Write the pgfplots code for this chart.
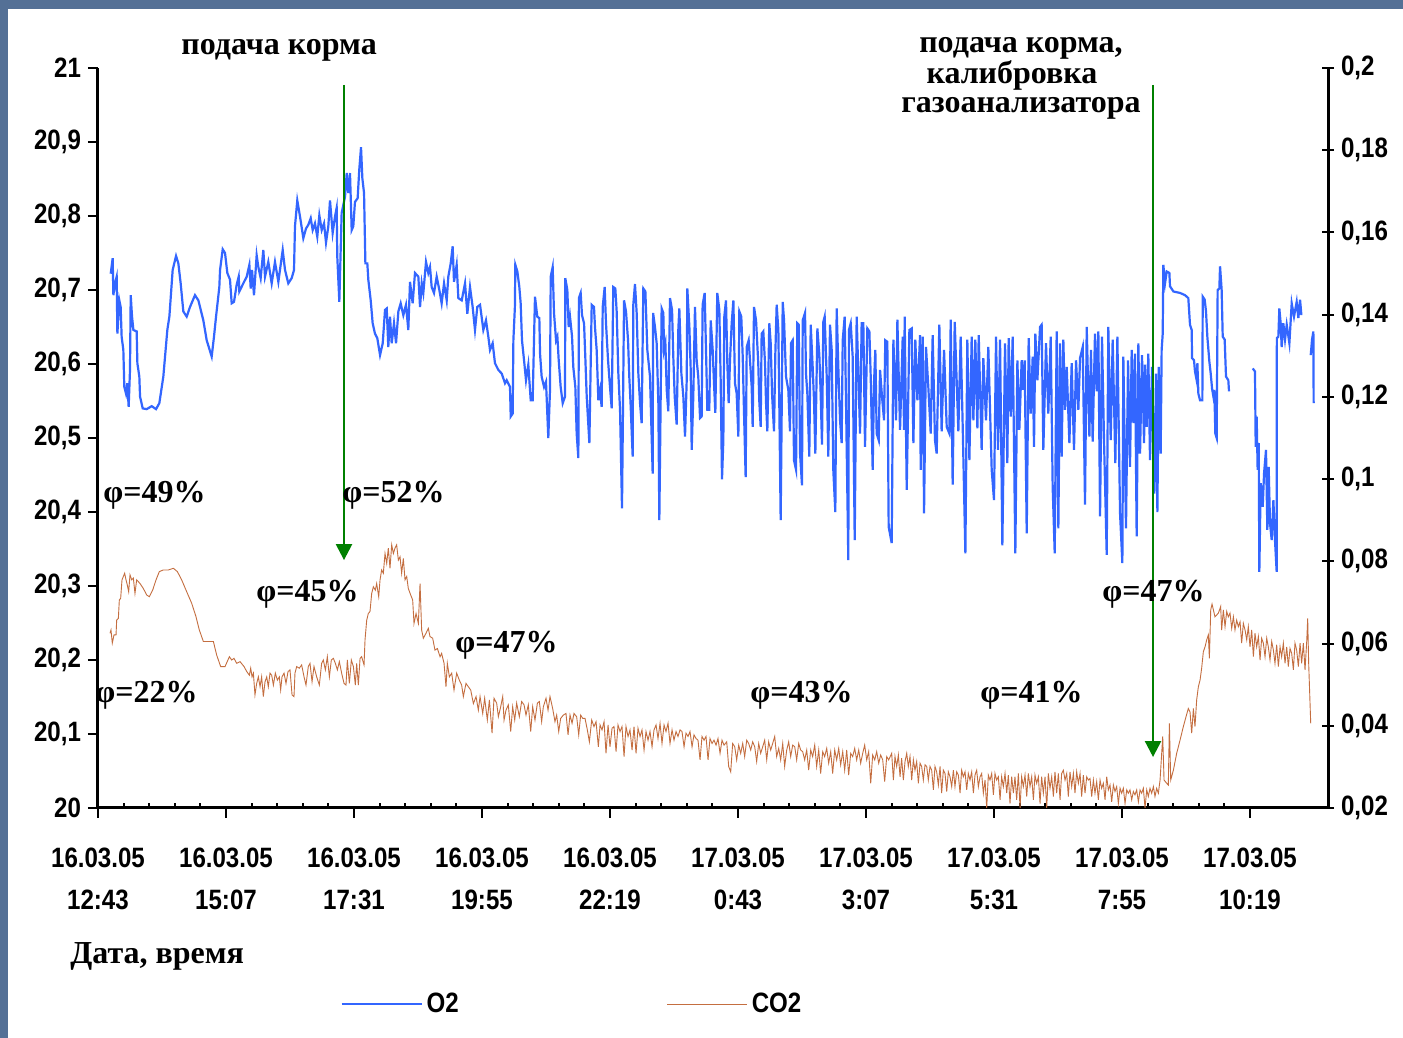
\documentclass[border=0pt]{standalone}
\usepackage{fontspec}
\setmainfont{Liberation Serif}
\newfontfamily\narrowsans[FakeStretch=0.86]{Liberation Sans}
\usepackage{pgfplots}
\pgfplotsset{compat=1.18}
\usetikzlibrary{arrows.meta}

\definecolor{otwo}{RGB}{51,102,255}
\definecolor{cotwo}{RGB}{196,110,64}
\definecolor{slide}{RGB}{84,112,150}
\definecolor{arrowgreen}{RGB}{0,128,0}

\newcommand{\tickfont}{\narrowsans\bfseries\fontsize{14}{21}\selectfont}
\newcommand{\notefont}{\bfseries\fontsize{16}{16}\selectfont}

\pgfplotsset{
  common/.style={
    scale only axis, width=615pt, height=370pt,
    at={(0pt,0pt)}, anchor=south west,
    xmin=0, xmax=1383.75,
    /pgf/number format/assume math mode=true,
    tick style={line width=1pt, black},
    axis line style={line width=1.5pt, black},
    ticklabel style={font=\tickfont},
  }
}

\begin{document}
\begin{tikzpicture}
% slide frame and white sheet
\fill[slide] (-49pt,-115pt) rectangle (652.5pt,404pt);
\fill[white] (-45pt,-115pt) rectangle (652.5pt,399.5pt);

% ---------- O2, left axis ----------
\begin{axis}[common,
  ymin=20, ymax=21,
  axis y line*=left, axis x line*=bottom,
  tick align=outside, major tick length=5pt,
  minor tick length=2.5pt,
  minor x tick style={yshift=2.5pt},
  xtick={0,144,288,432,576,720,864,1008,1152,1296},
  minor x tick num=4,
  xticklabels={{16.03.05\\12:43},{16.03.05\\15:07},{16.03.05\\17:31},{16.03.05\\19:55},{16.03.05\\22:19},{17.03.05\\0:43},{17.03.05\\3:07},{17.03.05\\5:31},{17.03.05\\7:55},{17.03.05\\10:19}},
  xticklabel style={align=center, yshift=-11.5pt},
  ytick={20,20.1,20.2,20.3,20.4,20.5,20.6,20.7,20.8,20.9,21},
  yticklabel style={/pgf/number format/.cd, fixed, precision=1, use comma},
  unbounded coords=jump,
]
\addplot[otwo, line width=1.1pt] table {
t O2
14.3 20.722
16.5 20.743
17.3 20.693
19.1 20.709
21.0 20.718
21.8 20.641
24.0 20.686
25.5 20.677
26.6 20.637
28.5 20.619
29.6 20.569
31.5 20.560
33.0 20.574
34.5 20.542
36.0 20.592
36.8 20.693
38.3 20.664
39.8 20.646
43.5 20.644
44.3 20.601
46.5 20.583
47.3 20.556
50.3 20.540
54.8 20.539
60.4 20.543
65.3 20.539
69.0 20.547
73.5 20.583
78.0 20.646
80.3 20.664
84.0 20.727
87.8 20.746
90.4 20.736
93.0 20.709
96.0 20.671
99.8 20.664
103.5 20.677
109.1 20.693
112.9 20.686
118.5 20.659
122.3 20.632
127.9 20.610
130.5 20.637
132.8 20.664
136.5 20.704
137.3 20.727
140.3 20.755
142.9 20.750
145.5 20.723
148.5 20.714
150.4 20.682
153.0 20.684
156.0 20.707
158.3 20.718
159.0 20.698
163.5 20.709
167.3 20.718
170.3 20.734
171.8 20.702
173.3 20.727
175.5 20.693
178.5 20.747
180.4 20.731
183.0 20.716
186.0 20.754
187.9 20.718
191.6 20.738
195.4 20.709
199.1 20.738
202.9 20.711
207.8 20.754
210.4 20.727
214.1 20.709
217.9 20.716
220.5 20.727
221.6 20.786
224.2 20.821
227.3 20.799
231.0 20.770
234.0 20.783
236.6 20.788
239.3 20.797
241.5 20.781
244.1 20.790
246.7 20.772
249.0 20.801
251.7 20.781
254.3 20.790
256.5 20.764
259.1 20.786
261.0 20.821
264.0 20.777
266.6 20.799
268.5 20.811
269.2 20.745
271.5 20.684
274.1 20.804
277.9 20.826
279.8 20.858
281.6 20.831
283.5 20.858
285.4 20.781
287.2 20.786
289.1 20.819
292.1 20.824
293.9 20.862
295.9 20.893
297.4 20.851
299.3 20.831
300.8 20.736
303.0 20.736
304.1 20.714
306.8 20.686
309.0 20.655
311.6 20.641
314.2 20.635
317.3 20.612
320.3 20.628
322.9 20.673
324.8 20.675
326.6 20.623
328.5 20.664
330.4 20.628
333.0 20.655
335.3 20.628
337.9 20.671
340.5 20.682
343.5 20.666
346.5 20.680
349.1 20.646
351.0 20.711
354.0 20.682
356.6 20.723
360.4 20.718
362.3 20.677
364.2 20.709
366.0 20.696
369.0 20.738
371.6 20.723
373.5 20.731
375.4 20.704
378.0 20.696
381.0 20.718
384.0 20.700
386.6 20.682
389.3 20.709
392.3 20.686
394.1 20.718
396.8 20.736
399.0 20.759
400.5 20.711
403.5 20.734
405.4 20.689
409.2 20.686
412.9 20.709
415.5 20.668
418.5 20.704
421.5 20.677
424.1 20.646
426.7 20.677
429.8 20.680
433.5 20.646
436.5 20.659
439.1 20.637
441.0 20.619
444.0 20.628
446.6 20.601
450.4 20.592
454.2 20.587
457.9 20.574
459.8 20.578
463.5 20.569
464.3 20.529
466.5 20.533
467.3 20.632
469.0 20.677
469.5 20.734
471.8 20.725
474.0 20.704
475.5 20.682
477.0 20.632
479.3 20.605
481.5 20.578
484.1 20.599
486.8 20.551
489.0 20.551
491.6 20.691
494.2 20.664
496.5 20.662
497.3 20.614
499.1 20.583
501.8 20.569
504.0 20.576
506.6 20.500
508.5 20.565
509.3 20.718
511.5 20.731
513.0 20.669
515.3 20.632
516.8 20.637
518.3 20.605
520.5 20.569
522.8 20.547
525.4 20.556
525.7 20.716
528.0 20.700
529.5 20.650
531.0 20.664
533.3 20.637
534.7 20.596
537.0 20.569
538.5 20.506
540.4 20.473
541.0 20.689
543.0 20.696
544.5 20.666
546.8 20.655
548.2 20.610
549.8 20.556
552.8 20.493
555.4 20.680
558.0 20.677
559.1 20.650
561.0 20.619
562.9 20.551
564.8 20.565
566.6 20.542
567.8 20.677
570.0 20.704
571.5 20.655
573.8 20.605
576.0 20.569
577.9 20.540
579.7 20.704
582.0 20.702
583.5 20.671
585.4 20.587
587.3 20.538
589.5 20.405
591.8 20.686
594.0 20.671
596.3 20.632
597.7 20.583
599.3 20.542
601.5 20.475
602.2 20.680
604.1 20.708
606.0 20.669
607.9 20.587
609.8 20.547
611.6 20.520
613.5 20.702
615.8 20.698
618.0 20.619
621.0 20.583
624.0 20.452
624.5 20.669
626.6 20.650
628.5 20.628
630.4 20.547
631.5 20.389
634.1 20.675
636.0 20.669
636.8 20.619
638.3 20.628
639.8 20.565
641.6 20.536
643.5 20.689
645.8 20.673
647.2 20.610
648.8 20.556
651.0 20.518
652.9 20.648
654.0 20.675
656.3 20.587
658.5 20.556
660.4 20.502
662.3 20.578
663.0 20.702
665.3 20.650
666.8 20.592
667.9 20.484
669.7 20.556
671.6 20.677
673.5 20.605
675.3 20.583
677.3 20.527
679.1 20.529
680.2 20.680
682.5 20.696
684.0 20.619
685.5 20.538
687.7 20.538
689.3 20.659
691.5 20.619
693.0 20.574
694.5 20.534
696.7 20.696
699.0 20.673
700.5 20.578
702.0 20.444
703.5 20.497
704.6 20.664
706.5 20.686
708.0 20.601
709.5 20.547
711.0 20.605
712.9 20.655
714.8 20.686
716.6 20.574
718.5 20.560
720.4 20.502
721.5 20.671
723.7 20.664
725.3 20.610
726.8 20.533
728.6 20.447
729.8 20.623
732.0 20.632
733.5 20.605
735.4 20.569
736.5 20.515
738.0 20.677
740.3 20.659
742.8 20.601
743.9 20.551
745.5 20.515
746.6 20.641
748.5 20.644
750.4 20.601
751.5 20.549
753.0 20.509
755.2 20.655
756.8 20.628
758.3 20.560
760.5 20.509
762.0 20.614
763.5 20.680
765.4 20.646
766.5 20.542
768.0 20.389
770.3 20.684
771.8 20.659
774.0 20.583
776.6 20.565
778.5 20.509
779.6 20.628
781.5 20.632
783.0 20.470
785.3 20.457
786.7 20.655
788.3 20.653
789.8 20.479
792.0 20.436
792.8 20.659
795.4 20.669
796.5 20.587
798.0 20.560
800.2 20.475
801.8 20.653
804.0 20.596
805.5 20.551
807.0 20.479
809.3 20.648
811.5 20.612
813.0 20.560
814.5 20.491
816.0 20.657
817.5 20.664
819.8 20.583
821.6 20.475
823.5 20.653
825.4 20.619
827.2 20.457
829.5 20.400
831.0 20.675
833.3 20.578
834.8 20.524
836.6 20.493
837.8 20.632
840.0 20.664
841.5 20.551
844.1 20.335
844.8 20.646
846.8 20.655
849.0 20.610
851.3 20.362
853.5 20.664
855.4 20.587
857.3 20.506
859.1 20.655
861.0 20.655
862.9 20.488
865.5 20.648
867.8 20.644
869.3 20.583
871.5 20.457
873.0 20.574
874.5 20.619
876.0 20.506
878.3 20.497
879.8 20.592
882.0 20.556
884.3 20.524
885.7 20.632
888.0 20.630
889.5 20.380
892.9 20.358
894.8 20.633
897.8 20.524
899.3 20.660
902.3 20.511
905.3 20.637
906.8 20.511
907.5 20.664
909.8 20.430
912.8 20.646
915.4 20.648
917.3 20.493
919.5 20.633
921.8 20.551
924.8 20.639
925.5 20.457
927.8 20.637
929.3 20.398
931.5 20.623
934.1 20.569
936.8 20.506
939.0 20.639
941.6 20.497
943.5 20.479
946.5 20.653
949.1 20.509
951.8 20.619
954.8 20.515
957.8 20.506
959.3 20.660
961.5 20.437
963.8 20.657
967.9 20.509
970.5 20.637
972.8 20.515
975.8 20.344
978.0 20.633
980.3 20.470
982.9 20.637
984.8 20.524
987.0 20.633
989.3 20.513
990.8 20.639
994.1 20.484
996.0 20.608
999.0 20.524
1001.6 20.623
1005.4 20.457
1008.0 20.416
1010.3 20.637
1012.5 20.484
1014.8 20.633
1017.4 20.355
1020.4 20.628
1023.0 20.466
1024.5 20.635
1026.8 20.529
1029.0 20.637
1032.0 20.344
1034.3 20.605
1036.5 20.511
1039.1 20.605
1041.0 20.565
1042.5 20.605
1044.8 20.371
1047.0 20.635
1049.3 20.533
1051.5 20.610
1053.0 20.488
1054.5 20.641
1056.8 20.578
1059.8 20.650
1061.6 20.653
1063.5 20.484
1066.5 20.628
1069.1 20.533
1071.8 20.637
1074.0 20.434
1076.3 20.344
1078.5 20.644
1080.4 20.378
1082.3 20.628
1084.1 20.475
1086.0 20.633
1087.9 20.538
1089.8 20.596
1092.8 20.493
1095.4 20.601
1098.0 20.484
1100.3 20.605
1102.9 20.538
1104.8 20.608
1107.8 20.623
1110.4 20.410
1112.3 20.650
1115.3 20.502
1117.1 20.619
1119.0 20.495
1121.6 20.641
1123.5 20.563
1125.4 20.644
1127.3 20.394
1129.5 20.637
1131.8 20.495
1134.8 20.342
1136.6 20.650
1139.3 20.497
1141.5 20.633
1144.5 20.466
1146.8 20.637
1149.8 20.398
1152.4 20.331
1153.5 20.610
1156.5 20.378
1158.8 20.605
1161.0 20.461
1162.9 20.619
1164.8 20.520
1166.6 20.614
1168.5 20.367
1170.4 20.628
1172.3 20.479
1174.5 20.612
1176.8 20.493
1177.9 20.599
1179.8 20.515
1181.6 20.614
1183.5 20.470
1185.8 20.596
1188.4 20.425
1190.3 20.587
1191.8 20.400
1193.3 20.596
1195.5 20.479
1196.6 20.619
1197.8 20.641
1198.5 20.734
1200.4 20.709
1202.3 20.725
1205.3 20.723
1206.0 20.705
1209.8 20.698
1217.3 20.696
1222.9 20.693
1226.6 20.689
1228.5 20.653
1230.4 20.646
1230.8 20.608
1233.0 20.605
1234.1 20.590
1236.0 20.578
1236.8 20.601
1237.9 20.560
1239.8 20.551
1242.4 20.551
1242.8 20.691
1245.0 20.687
1246.5 20.671
1248.0 20.637
1250.3 20.603
1251.8 20.587
1253.3 20.567
1254.8 20.556
1255.9 20.565
1257.0 20.506
1258.5 20.500
1259.6 20.700
1261.5 20.702
1262.3 20.732
1264.1 20.700
1265.3 20.637
1267.5 20.633
1269.0 20.583
1271.6 20.578
1272.4 20.563
1285.0 nan
1299.0 20.594
1301.6 20.590
1302.4 20.488
1303.5 20.529
1304.6 20.457
1305.8 20.493
1306.5 20.319
1308.0 20.439
1310.3 20.407
1311.8 20.452
1314.0 20.484
1315.5 20.376
1317.0 20.461
1318.5 20.385
1320.4 20.362
1322.3 20.416
1324.1 20.362
1326.0 20.319
1326.2 20.635
1327.9 20.637
1329.0 20.675
1330.5 20.655
1331.6 20.623
1333.5 20.655
1335.4 20.633
1337.3 20.653
1340.3 20.628
1342.9 20.682
1345.5 20.664
1348.5 20.684
1350.4 20.662
1352.3 20.687
1353.8 20.666
1360.0 nan
1364.3 20.612
1365.8 20.633
1367.3 20.644
1367.6 20.547
};
\end{axis}

% ---------- CO2, right axis ----------
\begin{axis}[common,
  ymin=0.02, ymax=0.2,
  axis y line*=right, axis x line=none,
  tick align=center, major tick length=6pt,
  ytick={0.02,0.04,0.06,0.08,0.1,0.12,0.14,0.16,0.18,0.2},
  yticklabel style={/pgf/number format/.cd, fixed, precision=2, use comma},
  clip mode=individual,
  legend columns=2,
  legend style={draw=none, fill=none, font=\tickfont, inner sep=0pt,
    at={(rel axis cs:0.1967,-0.2649)}, anchor=west,
    /tikz/every even column/.append style={column sep=102pt}},
  legend cell align=left,
  legend image code/.code={\draw[#1] (0pt,0pt) -- (40pt,0pt);},
]
\addlegendimage{otwo, line width=1.2pt}
\addlegendentry{O2}
\addplot[cotwo, line width=0.45pt] table {
t CO2
13.5 0.0625
14.6 0.0633
16.1 0.0601
18.0 0.0621
20.3 0.0621
21.0 0.0657
22.9 0.0661
24.0 0.0706
25.5 0.0710
27.0 0.0755
28.5 0.0763
30.0 0.0771
31.5 0.0755
33.0 0.0742
34.5 0.0726
36.0 0.0767
37.9 0.0755
39.8 0.0759
41.6 0.0722
43.5 0.0755
47.3 0.0746
51.0 0.0734
54.8 0.0718
57.8 0.0714
61.5 0.0730
65.3 0.0755
69.0 0.0775
73.5 0.0779
79.1 0.0779
84.8 0.0783
89.3 0.0775
94.1 0.0755
99.8 0.0726
105.4 0.0698
110.3 0.0665
114.0 0.0633
118.5 0.0605
123.0 0.0605
129.8 0.0605
133.5 0.0572
138.0 0.0544
142.9 0.0544
147.8 0.0568
150.4 0.0560
153.0 0.0564
156.0 0.0552
159.8 0.0556
164.3 0.0544
167.3 0.0532
170.3 0.0523
171.8 0.0540
173.3 0.0519
174.8 0.0528
176.6 0.0475
178.5 0.0503
180.4 0.0519
182.3 0.0495
184.1 0.0519
186.0 0.0471
187.9 0.0507
189.8 0.0519
191.6 0.0495
193.5 0.0528
195.4 0.0523
197.3 0.0499
199.5 0.0528
201.8 0.0511
204.0 0.0519
205.5 0.0487
207.0 0.0519
209.3 0.0528
211.5 0.0503
213.8 0.0532
216.0 0.0536
218.3 0.0475
220.5 0.0471
221.6 0.0528
223.5 0.0544
226.5 0.0540
229.1 0.0548
231.8 0.0519
234.0 0.0499
236.6 0.0544
238.5 0.0552
240.8 0.0507
243.0 0.0544
246.0 0.0519
249.0 0.0499
251.6 0.0552
253.5 0.0560
255.8 0.0536
258.0 0.0568
260.3 0.0519
262.5 0.0560
264.8 0.0564
267.0 0.0552
269.3 0.0536
271.5 0.0556
274.1 0.0528
276.8 0.0503
279.0 0.0499
280.5 0.0560
282.8 0.0503
285.0 0.0560
287.3 0.0544
289.5 0.0499
291.0 0.0552
292.9 0.0499
294.8 0.0564
296.6 0.0568
299.3 0.0548
300.4 0.0609
302.3 0.0657
304.1 0.0673
306.0 0.0678
307.9 0.0722
309.8 0.0738
312.0 0.0730
313.5 0.0746
315.8 0.0714
317.3 0.0755
319.1 0.0779
321.0 0.0771
322.9 0.0819
324.8 0.0795
326.6 0.0832
328.5 0.0783
330.4 0.0840
332.3 0.0819
334.1 0.0832
336.0 0.0840
337.9 0.0803
339.8 0.0811
341.6 0.0771
343.5 0.0807
345.4 0.0755
347.3 0.0763
349.1 0.0734
351.8 0.0718
354.0 0.0706
355.5 0.0649
357.8 0.0673
360.4 0.0649
362.3 0.0746
364.1 0.0633
366.0 0.0613
369.0 0.0625
371.6 0.0637
373.5 0.0617
376.5 0.0613
379.1 0.0584
381.8 0.0588
384.8 0.0568
386.6 0.0576
389.3 0.0552
391.5 0.0495
393.0 0.0552
395.3 0.0519
397.9 0.0528
400.5 0.0487
403.5 0.0528
406.5 0.0511
409.1 0.0499
411.0 0.0471
414.0 0.0503
416.6 0.0495
419.3 0.0487
422.3 0.0454
425.3 0.0471
427.9 0.0438
429.8 0.0471
432.8 0.0430
435.0 0.0467
438.0 0.0414
440.3 0.0463
443.3 0.0382
445.5 0.0467
448.5 0.0455
450.4 0.0422
453.0 0.0446
455.3 0.0471
456.8 0.0414
459.0 0.0438
461.6 0.0451
464.3 0.0386
466.5 0.0446
468.8 0.0414
471.0 0.0455
474.0 0.0422
476.6 0.0459
479.3 0.0451
481.5 0.0426
484.1 0.0451
486.8 0.0386
489.0 0.0446
491.6 0.0414
494.3 0.0455
496.5 0.0459
499.1 0.0410
501.0 0.0446
504.0 0.0467
506.3 0.0438
508.5 0.0471
511.5 0.0442
514.1 0.0410
516.0 0.0426
518.3 0.0386
520.5 0.0418
523.5 0.0426
526.5 0.0430
528.8 0.0378
531.0 0.0426
533.3 0.0406
535.5 0.0430
538.5 0.0422
540.8 0.0378
543.0 0.0426
545.3 0.0418
547.9 0.0418
550.5 0.0390
552.8 0.0361
555.4 0.0414
558.0 0.0398
560.3 0.0410
562.9 0.0349
564.8 0.0402
567.0 0.0390
569.3 0.0410
571.5 0.0333
573.8 0.0402
576.0 0.0349
578.3 0.0394
580.5 0.0398
582.8 0.0337
585.0 0.0402
587.3 0.0386
589.5 0.0398
591.8 0.0325
594.0 0.0398
596.3 0.0374
598.5 0.0390
600.8 0.0341
603.0 0.0398
605.3 0.0333
607.5 0.0394
609.8 0.0374
612.0 0.0390
614.3 0.0341
616.5 0.0386
618.8 0.0365
621.0 0.0386
623.3 0.0349
625.5 0.0390
627.8 0.0402
630.0 0.0369
632.3 0.0406
634.5 0.0357
636.8 0.0402
639.0 0.0386
641.3 0.0406
643.5 0.0357
645.8 0.0390
648.0 0.0365
650.3 0.0386
652.5 0.0374
654.8 0.0390
657.0 0.0386
659.3 0.0349
661.5 0.0382
663.8 0.0374
666.0 0.0386
668.3 0.0349
670.5 0.0378
672.8 0.0369
675.0 0.0365
677.3 0.0317
679.5 0.0374
681.8 0.0365
684.0 0.0374
686.3 0.0317
688.5 0.0369
690.8 0.0357
693.0 0.0365
695.3 0.0353
697.5 0.0369
699.8 0.0333
702.0 0.0365
704.3 0.0353
707.3 0.0361
709.5 0.0301
711.8 0.0288
714.0 0.0357
716.3 0.0349
718.5 0.0317
720.8 0.0353
723.0 0.0333
725.3 0.0357
727.5 0.0325
729.8 0.0365
732.0 0.0357
734.3 0.0341
736.5 0.0361
738.8 0.0349
741.0 0.0313
743.3 0.0357
745.5 0.0333
747.8 0.0349
750.0 0.0365
752.3 0.0317
754.5 0.0361
756.8 0.0341
759.0 0.0357
761.3 0.0374
763.5 0.0325
765.8 0.0345
768.0 0.0317
770.3 0.0357
772.5 0.0301
774.8 0.0341
777.0 0.0361
779.3 0.0325
781.5 0.0353
783.8 0.0349
786.0 0.0317
788.3 0.0357
790.5 0.0341
792.8 0.0337
795.0 0.0317
797.3 0.0341
799.5 0.0292
801.8 0.0341
804.0 0.0325
806.3 0.0353
808.5 0.0301
810.8 0.0341
813.0 0.0284
815.3 0.0337
817.5 0.0325
819.8 0.0345
822.0 0.0309
824.3 0.0337
826.5 0.0284
828.8 0.0341
831.0 0.0317
833.3 0.0345
835.5 0.0305
837.8 0.0337
840.0 0.0292
842.3 0.0341
844.5 0.0280
846.8 0.0333
849.0 0.0325
851.3 0.0345
853.5 0.0317
855.8 0.0341
858.0 0.0309
860.3 0.0333
862.5 0.0353
864.8 0.0317
867.0 0.0337
869.3 0.0260
871.5 0.0329
873.8 0.0317
876.0 0.0337
878.3 0.0309
880.5 0.0329
882.8 0.0317
885.0 0.0264
887.3 0.0325
889.5 0.0317
892.9 0.0333
894.8 0.0268
896.6 0.0325
898.5 0.0301
900.4 0.0329
902.3 0.0276
904.1 0.0321
906.0 0.0268
907.9 0.0313
909.8 0.0333
911.6 0.0301
913.5 0.0325
915.4 0.0268
917.3 0.0317
919.1 0.0292
921.0 0.0313
922.9 0.0260
924.8 0.0309
926.6 0.0301
928.5 0.0268
930.4 0.0305
932.3 0.0301
934.1 0.0268
936.0 0.0301
937.9 0.0292
939.8 0.0244
941.6 0.0301
943.5 0.0288
945.4 0.0256
947.3 0.0301
949.1 0.0236
951.0 0.0292
952.9 0.0284
954.8 0.0240
956.6 0.0288
958.5 0.0276
960.4 0.0252
962.3 0.0292
964.1 0.0252
966.0 0.0288
967.9 0.0280
969.8 0.0236
971.6 0.0292
973.5 0.0276
975.4 0.0288
977.3 0.0244
979.1 0.0284
981.0 0.0268
982.9 0.0288
984.8 0.0236
986.6 0.0280
988.5 0.0292
990.4 0.0252
992.3 0.0276
994.1 0.0284
996.0 0.0236
997.9 0.0268
999.8 0.0200
1001.6 0.0280
1003.5 0.0268
1005.4 0.0284
1007.3 0.0232
1009.1 0.0284
1011.0 0.0268
1012.9 0.0276
1014.8 0.0220
1016.6 0.0276
1018.5 0.0252
1020.4 0.0284
1022.3 0.0236
1024.1 0.0280
1026.0 0.0211
1027.9 0.0276
1029.8 0.0236
1031.6 0.0276
1033.5 0.0220
1035.4 0.0284
1037.3 0.0200
1039.1 0.0276
1041.0 0.0252
1042.9 0.0280
1044.8 0.0228
1046.6 0.0284
1048.5 0.0252
1050.4 0.0276
1052.3 0.0220
1054.1 0.0280
1056.0 0.0260
1057.9 0.0276
1059.8 0.0211
1061.6 0.0276
1063.5 0.0236
1065.4 0.0276
1067.3 0.0200
1069.1 0.0284
1071.0 0.0248
1072.9 0.0276
1074.8 0.0228
1076.6 0.0288
1078.5 0.0236
1080.4 0.0284
1082.3 0.0220
1084.1 0.0284
1086.0 0.0292
1087.9 0.0268
1089.8 0.0284
1091.6 0.0228
1093.5 0.0288
1095.4 0.0252
1097.3 0.0284
1099.1 0.0236
1101.0 0.0288
1102.9 0.0260
1104.8 0.0284
1106.6 0.0228
1108.5 0.0280
1110.4 0.0236
1112.3 0.0276
1114.1 0.0268
1116.0 0.0272
1117.9 0.0228
1119.8 0.0268
1121.6 0.0236
1123.5 0.0264
1125.4 0.0220
1127.3 0.0268
1129.1 0.0248
1131.0 0.0260
1132.9 0.0220
1134.8 0.0276
1136.6 0.0244
1138.5 0.0256
1140.4 0.0215
1142.3 0.0256
1144.1 0.0240
1146.0 0.0252
1147.9 0.0211
1149.8 0.0248
1151.6 0.0236
1153.5 0.0248
1155.4 0.0211
1157.3 0.0244
1159.1 0.0236
1161.0 0.0244
1162.9 0.0220
1164.8 0.0240
1166.6 0.0232
1168.5 0.0244
1170.4 0.0215
1172.3 0.0244
1174.1 0.0236
1176.0 0.0248
1177.9 0.0200
1179.8 0.0244
1181.6 0.0228
1183.5 0.0248
1185.4 0.0236
1187.3 0.0252
1189.1 0.0228
1191.0 0.0248
1192.9 0.0236
1194.8 0.0268
1197.8 0.0374
1199.3 0.0268
1202.3 0.0260
1204.1 0.0256
1205.3 0.0406
1206.8 0.0268
1209.8 0.0292
1213.5 0.0333
1217.3 0.0365
1221.0 0.0398
1224.0 0.0422
1226.6 0.0442
1228.5 0.0434
1230.4 0.0382
1232.3 0.0442
1234.1 0.0398
1236.0 0.0463
1237.9 0.0495
1239.8 0.0511
1241.6 0.0540
1243.5 0.0580
1245.4 0.0592
1247.3 0.0609
1249.1 0.0621
1250.3 0.0564
1251.8 0.0682
1253.3 0.0696
1256.6 0.0665
1260.4 0.0674
1263.0 0.0690
1264.1 0.0633
1266.0 0.0682
1267.9 0.0641
1269.8 0.0678
1271.6 0.0665
1273.5 0.0674
1275.4 0.0637
1277.3 0.0665
1279.1 0.0633
1281.0 0.0657
1282.9 0.0641
1284.8 0.0653
1286.6 0.0601
1288.5 0.0649
1290.4 0.0633
1292.3 0.0609
1294.1 0.0641
1296.0 0.0592
1297.9 0.0633
1299.8 0.0568
1301.6 0.0625
1303.5 0.0592
1305.4 0.0617
1307.3 0.0560
1309.1 0.0613
1311.0 0.0601
1312.9 0.0568
1314.8 0.0613
1316.6 0.0592
1318.5 0.0560
1320.4 0.0605
1322.3 0.0584
1324.1 0.0552
1326.0 0.0597
1327.9 0.0544
1329.8 0.0592
1331.6 0.0568
1333.5 0.0601
1335.4 0.0552
1337.3 0.0592
1339.1 0.0544
1341.0 0.0588
1342.9 0.0576
1344.8 0.0536
1346.6 0.0601
1348.5 0.0584
1350.4 0.0544
1352.3 0.0601
1354.1 0.0552
1356.0 0.0601
1357.9 0.0536
1359.8 0.0605
1360.9 0.0661
1362.0 0.0552
1364.3 0.0406
};
\addlegendentry{CO2}

% feeding marks
\draw[arrowgreen, line width=1.2pt, -{Triangle[width=8pt,length=8pt]}]
  (axis cs:276.75,0.1959) -- (axis cs:276.75,0.0803);
\draw[arrowgreen, line width=1.2pt, -{Triangle[width=8pt,length=8pt]}]
  (axis cs:1186.9,0.1959) -- (axis cs:1186.9,0.0324);

% annotations
\node[font=\notefont, anchor=base, inner sep=0pt] at (rel axis cs:0.1472,1.0176) {подача корма};
\node[font=\notefont, anchor=base, inner sep=0pt] at (rel axis cs:0.7504,1.0216)
  {\fontsize{16}{13.5}\selectfont\begin{tabular}[t]{@{}c@{}}подача корма,\\калибровка\hspace*{9pt}\\[1pt]газоанализатора\end{tabular}};

\node[font=\notefont, anchor=base west, inner sep=0pt] at (rel axis cs:0.0041,0.4135) {φ=49\%};
\node[font=\notefont, anchor=base west, inner sep=0pt] at (rel axis cs:0.1984,0.4135) {φ=52\%};
\node[font=\notefont, anchor=base west, inner sep=0pt] at (rel axis cs:0.1285,0.2784) {φ=45\%};
\node[font=\notefont, anchor=base west, inner sep=0pt] at (rel axis cs:0.2902,0.2108) {φ=47\%};
\node[font=\notefont, anchor=base west, inner sep=0pt] at (rel axis cs:-0.0024,0.1419) {φ=22\%};
\node[font=\notefont, anchor=base west, inner sep=0pt] at (rel axis cs:0.5301,0.1419) {φ=43\%};
\node[font=\notefont, anchor=base west, inner sep=0pt] at (rel axis cs:0.7171,0.1419) {φ=41\%};
\node[font=\notefont, anchor=base west, inner sep=0pt] at (rel axis cs:0.8163,0.2784) {φ=47\%};

\node[font=\notefont, anchor=base west, inner sep=0pt] at (rel axis cs:-0.0228,-0.2108) {Дата, время};
\end{axis}
\end{tikzpicture}
\end{document}
